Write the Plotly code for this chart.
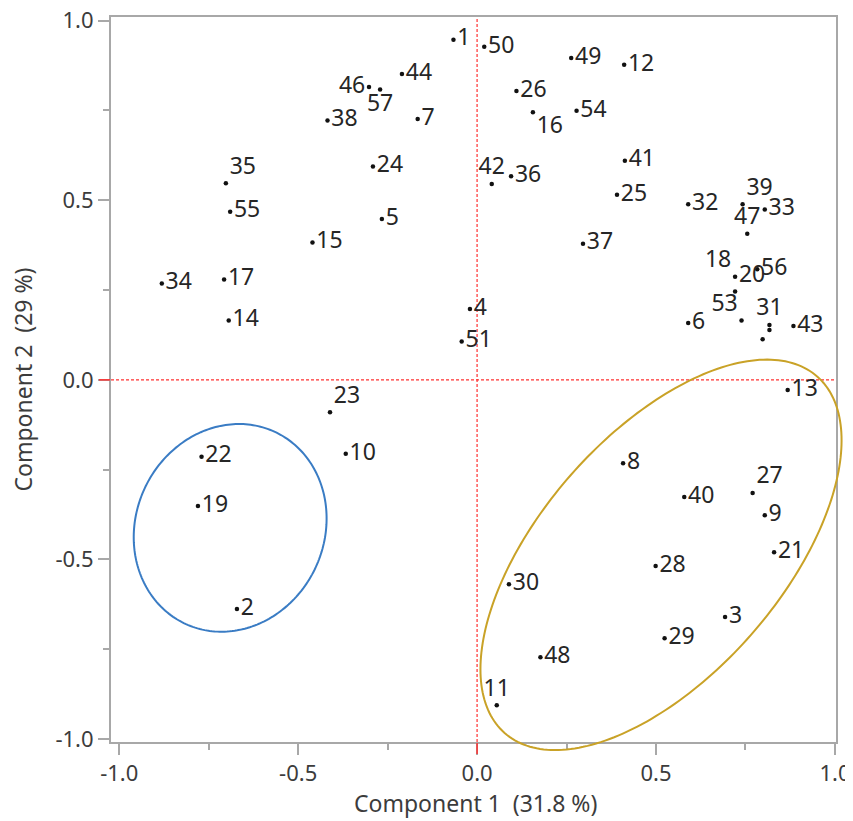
import numpy as np
import plotly.graph_objects as go

# ---- data ----
labels = [str(i) for i in range(1, 58)]
comp1 = [-0.066, -0.671, 0.693, -0.020, -0.266, 0.590, -0.166, 0.408, 0.804, -0.367,
         0.055, 0.411, 0.868, -0.694, -0.460, 0.156, -0.707, 0.721, -0.780, 0.721,
         0.830, -0.770, -0.411, -0.291, 0.391, 0.110, 0.770, 0.499, 0.524, 0.089,
         0.817, 0.590, 0.804, -0.881, -0.702, 0.095, 0.296, -0.418, 0.742, 0.579,
         0.413, 0.041, 0.884, -0.210, 0.817, -0.302, 0.755, 0.177, 0.263, 0.020,
         -0.043, 0.798, 0.739, 0.278, -0.690, 0.783, -0.271]
comp2 = [0.947, -0.638, -0.660, 0.197, 0.448, 0.158, 0.726, -0.232, -0.377, -0.206,
         -0.906, 0.877, -0.028, 0.165, 0.382, 0.745, 0.279, 0.287, -0.351, 0.246,
         -0.480, -0.214, -0.090, 0.594, 0.515, 0.804, -0.315, -0.518, -0.719, -0.569,
         0.153, 0.489, 0.474, 0.268, 0.547, 0.567, 0.379, 0.722, 0.489, -0.326,
         0.610, 0.545, 0.150, 0.851, 0.139, 0.815, 0.407, -0.772, 0.896, 0.927,
         0.107, 0.113, 0.165, 0.749, 0.468, 0.308, 0.808]
hidden_labels = ["45", "52"]
x_title = "Component 1\u00a0\u00a0(31.8 %)"
y_title = "Component 2\u00a0\u00a0(29 %)"
tick_vals = [-1.0, -0.5, 0.0, 0.5, 1.0]
tick_text = ["-1.0", "-0.5", "0.0", "0.5", "1.0"]

# label placement (style)
label_pos = {"11": "top center", "16": "bottom right", "18": "top left", "20": "top right",
             "23": "top right", "27": "top right", "31": "top center", "35": "top right",
             "39": "top right", "42": "top center", "46": "middle left", "47": "top center",
             "53": "top left", "57": "bottom center"}

# ellipse parameters (center x, center y, semi-major, semi-minor, angle deg)
blue_ell = (-0.690, -0.412, 0.295, 0.263, 63.9)
gold_ell = (0.514, -0.487, 0.661, 0.336, 48.6)

x_range = [-1.023, 1.003]
y_range = [-1.008, 1.010]


def ellipse_path(cx, cy, a, b, ang, n=240):
    t = np.linspace(0, 2 * np.pi, n, endpoint=False)
    th = np.deg2rad(ang)
    x = cx + a * np.cos(t) * np.cos(th) - b * np.sin(t) * np.sin(th)
    y = cy + a * np.cos(t) * np.sin(th) + b * np.sin(t) * np.cos(th)
    # convert to paper coordinates of the plot area
    px = (x - x_range[0]) / (x_range[1] - x_range[0])
    py = (y - y_range[0]) / (y_range[1] - y_range[0])
    pts = [f"{u:.5f},{v:.5f}" for u, v in zip(px, py)]
    return "M" + " L".join(pts) + " Z"


texts = ["" if l in hidden_labels else l for l in labels]
positions = [label_pos.get(l, "middle right") for l in labels]

FONT = "Noto Sans"
GREY_TXT = "#3c3c3c"
fig = go.Figure()

fig.add_trace(go.Scatter(
    x=comp1, y=comp2, mode="markers+text", text=texts, textposition=positions,
    marker=dict(color="#111111", size=4.5),
    textfont=dict(family=FONT, size=23, color="#262626"),
    showlegend=False, cliponaxis=False))

axis_common = dict(
    showgrid=False, zeroline=False, showline=True, linecolor="#a8a8a8", linewidth=2,
    mirror=True, ticks="outside", ticklen=11, tickwidth=1.5, tickcolor="#a8a8a8",
    tickvals=tick_vals, ticktext=tick_text, automargin=False, ticklabeloverflow="allow",
    tickfont=dict(family=FONT, size=22, color=GREY_TXT),
    minor=dict(ticks="outside", ticklen=6, tickwidth=1.5, tickcolor="#a8a8a8", dtick=0.25),
)

fig.update_layout(
    width=845, height=813, plot_bgcolor="white", paper_bgcolor="white",
    margin=dict(l=103, r=17, t=9, b=79),
    xaxis=dict(range=x_range, **axis_common),
    yaxis=dict(range=y_range, **axis_common),
)

fig.add_annotation(text=x_title, xref="paper", yref="paper", x=0.503, y=0,
                   yanchor="middle", yshift=-61, showarrow=False,
                   font=dict(family=FONT, size=23, color=GREY_TXT))
fig.add_annotation(text=y_title, xref="paper", yref="paper", x=0, y=0.5,
                   xanchor="center", xshift=-89, textangle=-90, showarrow=False,
                   font=dict(family=FONT, size=23, color=GREY_TXT))

red = "#ff3030"
fig.add_shape(type="line", xref="paper", yref="y", x0=0, x1=1, y0=0, y1=0,
              line=dict(color=red, width=1.2, dash="3px,2px"), layer="below")
fig.add_shape(type="line", xref="x", yref="paper", x0=0, x1=0, y0=0, y1=1,
              line=dict(color=red, width=1.2, dash="3px,2px"), layer="below")
# red ticks at 0.0
fig.add_shape(type="line", xref="x", yref="paper", ysizemode="pixel", yanchor=0,
              x0=0, x1=0, y0=-1, y1=-12, line=dict(color=red, width=1.5))
fig.add_shape(type="line", xref="paper", yref="y", xsizemode="pixel", xanchor=0,
              y0=0, y1=0, x0=-1, x1=-12, line=dict(color=red, width=1.5))

for ell, col in [(blue_ell, "#3a7cc4"), (gold_ell, "#c9a227")]:
    fig.add_shape(type="path", xref="paper", yref="paper", path=ellipse_path(*ell),
                  line=dict(color=col, width=2))

fig.write_html("out.html")
